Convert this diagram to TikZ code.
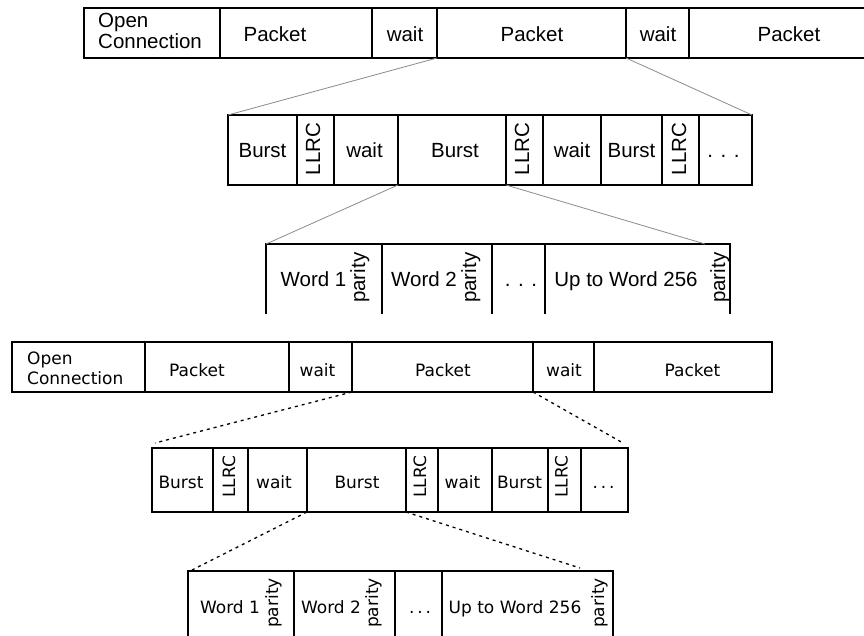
\documentclass[tikz,border=0pt]{standalone}
\usepackage{fontspec}
\setmainfont{Liberation Sans}
\newfontfamily\pixfont{DejaVu Sans}
\begin{document}
\begin{tikzpicture}[x=1pt,y=-1pt,
  cellA/.style={draw=black,line width=1.1pt,inner sep=0pt,outer sep=0pt,anchor=north west},
  cellB/.style={draw=black,line width=1.6pt,inner sep=0pt,outer sep=0pt,anchor=north west},
  slot/.style={inner sep=0pt,outer sep=0pt,anchor=north west},
  fanA/.style={draw=black!45,line width=0.8pt},
  fanB/.style={draw=black,line width=1.3pt,dash pattern=on 3pt off 4pt},
  txtA/.style={font=\fontsize{20.5}{17}\selectfont,inner sep=0pt,text=black},
  txtB/.style={font=\pixfont\fontsize{17}{20}\selectfont,inner sep=0pt,text=black},
  vertA/.style={txtA,rotate=90},
  vertB/.style={txtB,rotate=90}]
\useasboundingbox (0,0) rectangle (864,636);
\fill[white] (0,0) rectangle (864,636);

% ---------------- upper drawing ----------------
% connection / packet level
\node[cellA,minimum width=136pt,minimum height=50pt] (t1o) at (84,8) {};
\node[cellA,minimum width=152pt,minimum height=50pt] (t1p1) at (220,8) {};
\node[cellA,minimum width=65pt,minimum height=50pt] (t1w1) at (372,8) {};
\node[cellA,minimum width=189pt,minimum height=50pt] (t1p2) at (437,8) {};
\node[cellA,minimum width=63pt,minimum height=50pt] (t1w2) at (626,8) {};
\node[cellA,minimum width=210pt,minimum height=50pt] (t1p3) at (689,8) {};
\node[txtA,align=left,anchor=west] (t1ot) at (98,31) {Open\\Connection};
\node[txtA,anchor=base] (t1p1t) at (275,42) {Packet};
\node[txtA,anchor=base] (t1w1t) at (405,42) {wait};
\node[txtA,anchor=base] (t1p2t) at (532,42) {Packet};
\node[txtA,anchor=base] (t1w2t) at (658,42) {wait};
\node[txtA,anchor=base] (t1p3t) at (789,42) {Packet};

% burst level
\node[cellA,minimum width=69pt,minimum height=70pt] (t2b1) at (228,115) {};
\node[cellA,minimum width=37pt,minimum height=70pt] (t2l1) at (297,115) {};
\node[cellA,minimum width=64pt,minimum height=70pt] (t2w1) at (334,115) {};
\node[cellA,minimum width=108pt,minimum height=70pt] (t2b2) at (398,115) {};
\node[cellA,minimum width=37pt,minimum height=70pt] (t2l2) at (506,115) {};
\node[cellA,minimum width=58pt,minimum height=70pt] (t2w2) at (543,115) {};
\node[cellA,minimum width=61pt,minimum height=70pt] (t2b3) at (601,115) {};
\node[cellA,minimum width=37pt,minimum height=70pt] (t2l3) at (662,115) {};
\node[cellA,minimum width=53pt,minimum height=70pt] (t2d) at (699,115) {};
\node[txtA,anchor=base] (t2b1t) at (262.5,158) {Burst};
\node[vertA] (t2l1t) at (313,149) {LLRC};
\node[txtA,anchor=base] (t2w1t) at (364.5,158) {wait};
\node[txtA,anchor=base] (t2b2t) at (455,158) {Burst};
\node[vertA] (t2l2t) at (522,149) {LLRC};
\node[txtA,anchor=base] (t2w2t) at (572,158) {wait};
\node[txtA,anchor=base] (t2b3t) at (631.5,158) {Burst};
\node[vertA] (t2l3t) at (679,149) {LLRC};
\node[txtA,anchor=base] (t2dt) at (723.5,158) {. . .};

% word level (open at the bottom)
\node[slot,minimum width=116pt,minimum height=70pt] (t3w1) at (266,244) {};
\node[slot,minimum width=110pt,minimum height=70pt] (t3w2) at (382,244) {};
\node[slot,minimum width=53pt,minimum height=70pt] (t3d) at (492,244) {};
\node[slot,minimum width=185pt,minimum height=70pt] (t3w3) at (545,244) {};
\foreach \c in {t3w1,t3w2,t3d,t3w3}
  \draw[line width=1.1pt] (\c.south west) -- (\c.north west) -- (\c.north east) -- (\c.south east);
\node[txtA,anchor=base] (t3w1t) at (313.5,287) {Word 1};
\node[vertA,anchor=base west] (t3p1) at (365,303) {parity};
\node[txtA,anchor=base] (t3w2t) at (424,287) {Word 2};
\node[vertA,anchor=base west] (t3p2) at (476,303) {parity};
\node[txtA,anchor=base] (t3dt) at (521,287) {. . .};
\node[txtA,anchor=base] (t3w3t) at (626,287) {Up to Word 256};
\node[vertA,anchor=base west] (t3p3) at (725,303) {parity};

% expansion lines
\coordinate (t3end) at (705,244);
\draw[fanA] (t1p2.south west) -- (t2b1.north west);
\draw[fanA] (t1p2.south east) -- (t2d.north east);
\draw[fanA] (t2b2.south west) -- (t3w1.north west);
\draw[fanA] (t2b2.south east) -- (t3end);

% ---------------- lower drawing ----------------
% connection / packet level
\node[cellB,minimum width=133pt,minimum height=50pt] (b1o) at (12,342) {};
\node[cellB,minimum width=144pt,minimum height=50pt] (b1p1) at (145,342) {};
\node[cellB,minimum width=63pt,minimum height=50pt] (b1w1) at (289,342) {};
\node[cellB,minimum width=181pt,minimum height=50pt] (b1p2) at (352,342) {};
\node[cellB,minimum width=61pt,minimum height=50pt] (b1w2) at (533,342) {};
\node[cellB,minimum width=178pt,minimum height=50pt] (b1p3) at (594,342) {};
\node[txtB,align=left,anchor=west] (b1ot) at (27,368) {Open\\Connection};
\node[txtB,anchor=base] (b1p1t) at (197,376) {Packet};
\node[txtB,anchor=base] (b1w1t) at (317.5,376) {wait};
\node[txtB,anchor=base] (b1p2t) at (443,376) {Packet};
\node[txtB,anchor=base] (b1w2t) at (564,376) {wait};
\node[txtB,anchor=base] (b1p3t) at (692.5,376) {Packet};

% burst level
\node[cellB,minimum width=61pt,minimum height=64pt] (b2b1) at (152,448) {};
\node[cellB,minimum width=35pt,minimum height=64pt] (b2l1) at (213,448) {};
\node[cellB,minimum width=59pt,minimum height=64pt] (b2w1) at (248,448) {};
\node[cellB,minimum width=99pt,minimum height=64pt] (b2b2) at (307,448) {};
\node[cellB,minimum width=32pt,minimum height=64pt] (b2l2) at (406,448) {};
\node[cellB,minimum width=54pt,minimum height=64pt] (b2w2) at (438,448) {};
\node[cellB,minimum width=56pt,minimum height=64pt] (b2b3) at (492,448) {};
\node[cellB,minimum width=33pt,minimum height=64pt] (b2l3) at (548,448) {};
\node[cellB,minimum width=47pt,minimum height=64pt] (b2d) at (581,448) {};
\node[txtB,anchor=base] (b2b1t) at (181,488) {Burst};
\node[vertB] (b2l1t) at (229,477) {LLRC};
\node[txtB,anchor=base] (b2w1t) at (274,488) {wait};
\node[txtB,anchor=base] (b2b2t) at (357,488) {Burst};
\node[vertB] (b2l2t) at (420,477) {LLRC};
\node[txtB,anchor=base] (b2w2t) at (462.5,488) {wait};
\node[txtB,anchor=base] (b2b3t) at (519.5,488) {Burst};
\node[vertB] (b2l3t) at (561.5,477) {LLRC};
\node[txtB,anchor=base] (b2dt) at (603.5,488) {.\,.\,.};

% word level (open at the bottom)
\node[slot,minimum width=106pt,minimum height=70pt] (b3w1) at (188,571) {};
\node[slot,minimum width=101pt,minimum height=70pt] (b3w2) at (294,571) {};
\node[slot,minimum width=47pt,minimum height=70pt] (b3d) at (395,571) {};
\node[slot,minimum width=171pt,minimum height=70pt] (b3w3) at (442,571) {};
\foreach \c in {b3w1,b3w2,b3d,b3w3}
  \draw[line width=1.6pt] (\c.south west) -- (\c.north west) -- (\c.north east) -- (\c.south east);
\node[txtB,anchor=base] (b3w1t) at (230,613) {Word 1};
\node[vertB,anchor=base west] (b3p1) at (278,628) {parity};
\node[txtB,anchor=base] (b3w2t) at (331,613) {Word 2};
\node[vertB,anchor=base west] (b3p2) at (378,628) {parity};
\node[txtB,anchor=base] (b3dt) at (420,613) {.\,.\,.};
\node[txtB,anchor=base] (b3w3t) at (515,613) {Up to Word 256};
\node[vertB,anchor=base west] (b3p3) at (604,628) {parity};

% expansion lines
\coordinate (b2a) at (155,443);
\coordinate (b2z) at (623,443);
\coordinate (b3a) at (192,570);
\coordinate (b3z) at (580,568);
\draw[fanB] (b1p2.south west) -- (b2a);
\draw[fanB] (b1p2.south east) -- (b2z);
\draw[fanB] (b2b2.south west) -- (b3a);
\draw[fanB] (b2b2.south east) -- (b3z);
\end{tikzpicture}
\end{document}
